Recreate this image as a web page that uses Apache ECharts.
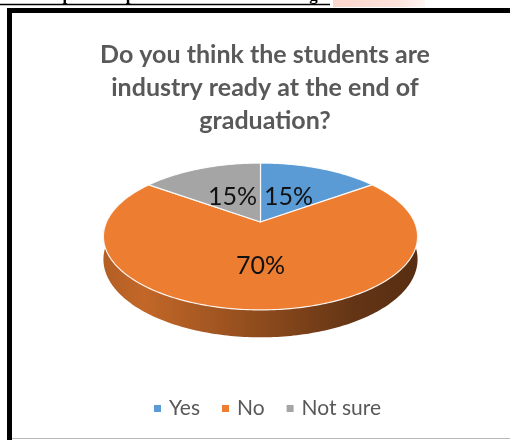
<!DOCTYPE html>
<html>
<head>
<meta charset="utf-8">
<script src="https://cdn.jsdelivr.net/npm/echarts@6.0.0/dist/echarts.min.js"></script>
<style>
  html, body { margin: 0; padding: 0; background: #fff; }
  #chart { width: 510px; height: 440px; }
</style>
</head>
<body>
<div id="chart"></div>
<script>
// Survey answers and their shares (percent)
const categories = ['Yes', 'No', 'Not sure'];
const shares = [15, 70, 15];
const sliceColors = ['#5B9BD5', '#ED7D31', '#A5A5A5'];
const titleLines = ['Do you think the students are', 'industry ready at the end of', 'graduation?'];
const headingText = 'Graphical representation of the findings:';

// Geometry of the tilted (perspective) pie
const PIE = { cx: 260.5, cy: 222, rx: 154, ry: 70.6, k: 0.197, depth: 22 };
const total = shares.reduce((a, b) => a + b, 0);

// angle measured clockwise from 12 o'clock, r in [0,1]
function project(theta, r) {
  const u = r * Math.sin(theta);
  const v = -r * Math.cos(theta);
  const f = 1 / (1 - PIE.k * v);
  return [PIE.cx + PIE.rx * u * f, PIE.cy + PIE.ry * v * f];
}
function wallHeight(theta) {
  const v = -Math.cos(theta);
  return PIE.depth / (1 - PIE.k * v);
}
function arcPoints(a0, a1) {
  const pts = [];
  const n = Math.max(2, Math.ceil((a1 - a0) / (Math.PI / 180)));
  for (let i = 0; i <= n; i++) pts.push(a0 + (a1 - a0) * i / n);
  return pts;
}
// shade a colour towards black (factor 1 = unchanged)
function shade(color, factor) {
  const c = echarts.color.parse(color);
  return 'rgb(' + [0, 1, 2].map(i => Math.round(c[i] * factor)).join(',') + ')';
}

function renderSlice(params, api) {
  const idx = params.seriesIndex;
  const val = api.value(0);
  let before = 0;
  for (let i = 0; i < idx; i++) before += shares[i];
  const a0 = before / total * Math.PI * 2;
  const a1 = (before + val) / total * Math.PI * 2;
  const color = api.visual('color');
  const children = [];

  // front wall (only the half facing the viewer)
  const s0 = Math.max(a0, Math.PI / 2 - 0.05);
  const s1 = Math.min(a1, Math.PI * 1.5 + 0.05);
  if (s1 > s0) {
    const angles = arcPoints(s0, s1);
    const topEdge = angles.map(t => project(t, 1));
    const bottomEdge = angles.map((t, i) => [topEdge[i][0], topEdge[i][1] + wallHeight(t)]).reverse();
    children.push({
      type: 'polygon',
      z2: 1,
      shape: { points: topEdge.concat(bottomEdge) },
      style: {
        fill: new echarts.graphic.LinearGradient(PIE.cx - PIE.rx, 0, PIE.cx + PIE.rx, 0, [
          { offset: 0, color: shade(color, 0.76) },
          { offset: 0.12, color: shade(color, 0.82) },
          { offset: 0.5, color: shade(color, 0.6) },
          { offset: 0.8, color: shade(color, 0.42) },
          { offset: 1, color: shade(color, 0.37) }
        ], true)
      }
    });
  }

  // top face
  const face = [[PIE.cx, PIE.cy]].concat(arcPoints(a0, a1).map(t => project(t, 1)));
  children.push({
    type: 'polygon',
    z2: 5,
    shape: { points: face },
    style: { fill: color, stroke: 'rgba(255,255,255,0.9)', lineWidth: 1.2, lineJoin: 'round' }
  });

  // value label
  const mid = (a0 + a1) / 2;
  const pos = project(mid, val / total > 0.5 ? 0.55 : 0.43);
  children.push({
    type: 'text',
    z2: 10,
    x: pos[0],
    y: pos[1],
    style: {
      text: val + '%',
      font: '25px Lato',
      fill: '#111',
      align: 'center',
      verticalAlign: 'middle'
    }
  });
  return { type: 'group', children };
}

const chart = echarts.init(document.getElementById('chart'), null, { renderer: 'canvas' });
chart.setOption({
  animation: false,
  color: sliceColors,
  title: {
    text: titleLines.join('\n'),
    left: 260,
    textAlign: 'center',
    top: 33,
    textStyle: { fontFamily: 'Lato', fontWeight: 'bold', fontSize: 25, lineHeight: 33, color: '#595959' }
  },
  legend: {
    data: categories,
    left: 149,
    top: 393,
    icon: 'rect',
    itemWidth: 7,
    itemHeight: 7,
    itemGap: 22,
    selectedMode: false,
    textStyle: { fontFamily: 'Lato', fontSize: 21, color: '#595959', padding: [0, 0, 0, 3] }
  },
  graphic: [
    // heading above the chart frame
    { type: 'text', x: 330, y: 4.5, z: 10,
      style: { text: headingText, font: 'bold 17px "Liberation Serif"', fill: '#000', align: 'right', verticalAlign: 'bottom' } },
    { type: 'rect', z: 9, shape: { x: 333, y: 0, width: 92, height: 7 },
      style: { fill: new echarts.graphic.LinearGradient(0, 0, 1, 0, [
        { offset: 0, color: '#fcd6cc' }, { offset: 0.7, color: '#fde3dc' }, { offset: 1, color: '#fff6f3' }]) } },
    { type: 'line', z: 10, shape: { x1: 0, y1: 4.5, x2: 330, y2: 4.5 }, style: { stroke: '#000', lineWidth: 1.6 } },
    // chart frame
    { type: 'rect', z: 10, shape: { x: 7, y: 8, width: 503, height: 5 }, style: { fill: '#000' } },
    { type: 'rect', z: 10, shape: { x: 7, y: 8, width: 5, height: 432 }, style: { fill: '#000' } },
    { type: 'line', z: 10, shape: { x1: 12, y1: 438.5, x2: 510, y2: 438.5 }, style: { stroke: '#b8b8b8', lineWidth: 1 } }
  ],
  series: categories.map((name, i) => ({
    type: 'custom',
    name: name,
    coordinateSystem: 'none',
    silent: true,
    data: [[shares[i]]],
    renderItem: renderSlice
  }))
});
</script>
</body>
</html>
